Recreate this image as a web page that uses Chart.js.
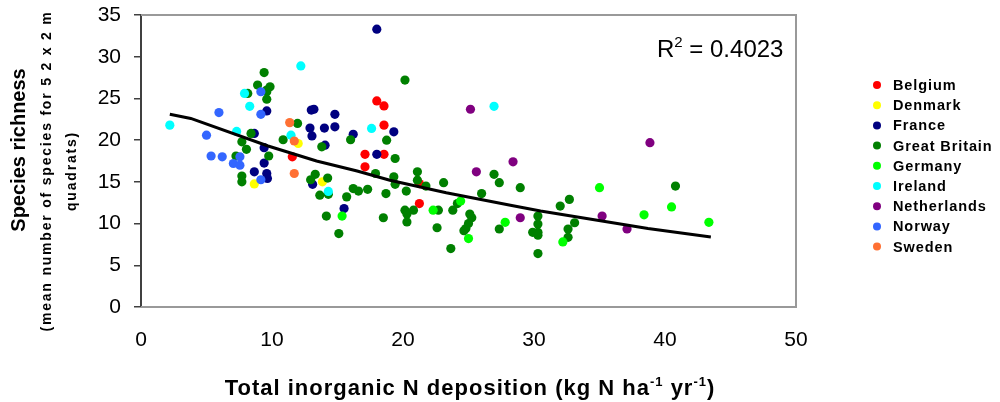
<!DOCTYPE html>
<html>
<head>
<meta charset="utf-8">
<script src="https://cdn.jsdelivr.net/npm/chart.js@4.4.1/dist/chart.umd.min.js"></script>
<style>
html,body{margin:0;padding:0;background:#fff;}
#wrap{width:1000px;height:402px;}
</style>
</head>
<body>
<div id="wrap"><canvas id="nChart" width="1000" height="402"></canvas></div>
<script>
// DATA, [N deposition, species richness]
const countries = ["Belgium","Denmark","France","Great Britain","Germany","Ireland","Netherlands","Norway","Sweden"];
const colors = ["#ff0000","#ffff00","#000080","#008000","#00ff00","#00ffff","#800080","#3366ff","#ff7033"];

const belgium = [[18.0,24.7],[18.55,24.1],[18.55,21.8],[17.1,18.3],[18.55,18.3],[17.1,16.8],[11.55,18.0],[21.25,12.4],[21.25,14.8]];
const denmark = [[8.65,14.75],[12.0,19.6],[13.85,15.0]];
const france = [[18.0,33.3],[9.6,23.5],[13.0,23.6],[13.2,23.7],[14.8,23.1],[12.9,21.45],[13.05,20.5],[14.0,21.45],[14.8,21.6],[16.2,20.7],[14.05,19.4],[18.0,18.3],[19.3,21.0],[8.65,20.8],[9.4,19.1],[9.4,17.25],[8.65,16.2],[9.6,16.0],[9.65,15.4],[13.1,14.7],[15.5,11.8]];
const greatBritain = [[9.4,28.1],[8.9,26.6],[8.15,25.6],[9.6,26.0],[8.4,20.8],[7.7,19.8],[8.05,18.9],[9.75,18.1],[7.25,18.1],[7.7,15.7],[7.7,15.0],
  [9.85,26.4],[9.6,25.8],[9.6,24.9],[11.95,22.0],[10.85,20.05],[16.0,20.05],[13.8,19.2],[13.3,15.9],[12.95,15.25],[14.25,15.45],[13.65,13.4],[14.3,13.5],
  [16.2,14.2],[16.6,13.9],[17.3,14.1],[15.7,13.2],[17.9,16.0],[18.7,13.6],[14.15,10.9],[15.1,8.8],[18.5,10.7],[18.75,20.0],
  [20.15,27.2],[19.4,17.8],[19.3,15.6],[19.4,14.7],[20.25,13.9],[21.1,16.2],[21.1,15.2],[21.75,14.5],[23.1,14.9],[20.15,11.6],[20.3,11.15],[20.3,10.2],
  [20.8,11.6],[22.7,11.6],[22.6,9.5],[23.8,11.6],[24.15,12.4],[23.65,7.0],[25.1,11.15],[25.25,10.7],[25.0,10.0],[24.8,9.4],[24.65,9.15],
  [26.95,15.9],[27.35,14.9],[26.0,13.6],[27.35,9.35],[28.95,14.3],[30.3,10.9],[30.3,9.95],[29.9,8.95],[30.3,8.95],[30.3,8.6],[30.3,6.4],
  [32.0,12.1],[32.7,12.9],[33.1,10.1],[32.6,9.35],[32.6,8.35],[40.8,14.5]];
const germany = [[15.35,10.9],[22.3,11.6],[24.4,12.7],[25.0,8.2],[27.8,10.15],[32.2,7.8],[35.0,14.3],[38.4,11.05],[40.5,12.0],[43.35,10.15]];
const ireland = [[2.2,21.8],[7.9,25.6],[8.3,24.05],[7.3,21.05],[12.2,28.9],[17.6,21.4],[11.45,20.6],[14.3,13.85],[26.95,24.05]];
const netherlands = [[25.15,23.7],[25.6,16.2],[28.4,17.4],[28.95,10.7],[35.2,10.9],[37.1,9.35],[38.85,19.7]];
const norway = [[5.95,23.3],[5.0,20.6],[9.15,25.8],[9.15,23.1],[5.35,18.1],[6.2,18.0],[7.55,18.0],[7.05,17.2],[7.55,17.0],[9.15,15.25]];
const sweden = [[11.35,22.1],[11.7,19.9],[11.7,16.0]];

// trend line
const trendX = [2.2,3.8,9.7,13.4,16.5,19.0,23.3,28.2,30.5,38.7,43.5];
const trendY = [23.1,22.6,19.3,17.5,16.3,15.2,13.7,12.2,11.5,9.4,8.4];
const rSquared = "0.4023";

const xTicks = [0,10,20,30,40,50];
const yTicks = [0,5,10,15,20,25,30,35];

const seriesList = [belgium,denmark,france,greatBritain,germany,ireland,netherlands,norway,sweden];
const FONT = "'Liberation Sans', Arial, sans-serif";

const datasets = seriesList.map(function(s,i){
  return {
    label: countries[i],
    data: s.map(function(p){ return {x:p[0], y:p[1]}; }),
    backgroundColor: colors[i],
    borderWidth: 0,
    pointRadius: 4.6,
    pointHoverRadius: 4.6,
    order: 10 - i
  };
});
datasets.push({
  label: "trend",
  type: "line",
  data: trendX.map(function(x,i){ return {x:x, y:trendY[i]}; }),
  borderColor: "#000",
  borderWidth: 3,
  pointRadius: 0,
  fill: false,
  tension: 0,
  order: 0
});

// frame, titles, legend and R2 drawn on the canvas
const extras = {
  id: "extras",
  beforeDatasetsDraw(chart){
    const a = chart.chartArea, ctx = chart.ctx;
    ctx.save();
    ctx.strokeStyle = "#999";
    ctx.lineWidth = 2;
    ctx.beginPath();
    ctx.moveTo(a.left, a.top); ctx.lineTo(a.right, a.top);
    ctx.lineTo(a.right, a.bottom); ctx.lineTo(a.left, a.bottom);
    ctx.stroke();
    ctx.restore();
  },
  afterDraw(chart){
    const ctx = chart.ctx;
    ctx.save();
    ctx.fillStyle = "#000";

    // y title
    ctx.save();
    ctx.translate(19, 150);
    ctx.rotate(-Math.PI/2);
    ctx.textAlign = "center";
    ctx.textBaseline = "middle";
    ctx.font = "bold 20px " + FONT;
    ctx.fillText("Species richness", 0, 0);
    ctx.restore();
    ctx.save();
    ctx.translate(47, 171);
    ctx.rotate(-Math.PI/2);
    ctx.textAlign = "center";
    ctx.textBaseline = "middle";
    ctx.font = "bold 14px " + FONT;
    ctx.letterSpacing = "1.8px";
    ctx.fillText("(mean number of species for 5 2 x 2 m", 0, 0);
    ctx.fillText("quadrats)", 0, 25);
    ctx.restore();

    // x title with superscripts
    ctx.save();
    ctx.letterSpacing = "1px";
    const parts = [["Total inorganic N deposition (kg N ha",0],["-1",1],[" yr",0],["-1",1],[")",0]];
    const big = "bold 22px " + FONT, small = "bold 13px " + FONT;
    let w = 0;
    parts.forEach(function(p){ ctx.font = p[1] ? small : big; w += ctx.measureText(p[0]).width; });
    let x = 470 - w/2;
    ctx.textAlign = "left";
    ctx.textBaseline = "alphabetic";
    parts.forEach(function(p){
      ctx.font = p[1] ? small : big;
      ctx.fillText(p[0], x, p[1] ? 386 : 395);
      x += ctx.measureText(p[0]).width;
    });
    ctx.restore();

    // R2
    ctx.font = "24px " + FONT;
    let rx = 657;
    ctx.fillText("R", rx, 57); rx += ctx.measureText("R").width;
    ctx.font = "15px " + FONT;
    ctx.fillText("2", rx, 47); rx += ctx.measureText("2").width;
    ctx.font = "24px " + FONT;
    ctx.fillText(" = " + rSquared, rx, 57);

    // legend
    ctx.font = "bold 14.5px " + FONT;
    ctx.letterSpacing = "0.9px";
    ctx.textBaseline = "middle";
    countries.forEach(function(c,i){
      const ly = 85 + i*20.2;
      ctx.fillStyle = colors[i];
      ctx.beginPath();
      ctx.arc(877, ly, 4, 0, Math.PI*2);
      ctx.fill();
      ctx.fillStyle = "#000";
      ctx.fillText(c, 893, ly + 1);
    });
    ctx.letterSpacing = "0px";
    ctx.restore();
  }
};

new Chart(document.getElementById("nChart"),{
  type:"scatter",
  data:{ datasets: datasets },
  options:{
    responsive:false,
    animation:false,
    devicePixelRatio:1,
    layout:{ padding:{ left:0, right:204, top:15, bottom:0 } },
    plugins:{ legend:{ display:false }, tooltip:{ enabled:false } },
    scales:{
      x:{
        type:"linear", min:0, max:50,
        afterFit(scale){ scale.height = 95; scale.paddingLeft = 0; scale.paddingRight = 0; },
        afterBuildTicks(scale){ scale.ticks = xTicks.map(function(v){ return {value:v}; }); },
        grid:{ display:false, drawTicks:false },
        border:{ display:false },
        ticks:{ color:"#000", font:{ size:21, family:FONT }, padding:21, maxRotation:0 }
      },
      y:{
        type:"linear", min:0, max:35,
        // keep the plot frame at 15..307 px regardless of label size
        afterFit(scale){ scale.width = 141; scale.paddingTop = 0; scale.paddingBottom = 0; },
        afterBuildTicks(scale){ scale.ticks = yTicks.map(function(v){ return {value:v}; }); },
        grid:{ drawOnChartArea:false, drawTicks:true, tickLength:7, color:"#404040", lineWidth:1.5 },
        border:{ display:true, color:"#404040", width:2 },
        ticks:{ color:"#000", font:{ size:21, family:FONT }, padding:13 }
      }
    }
  },
  plugins:[extras]
});
</script>
</body>
</html>
